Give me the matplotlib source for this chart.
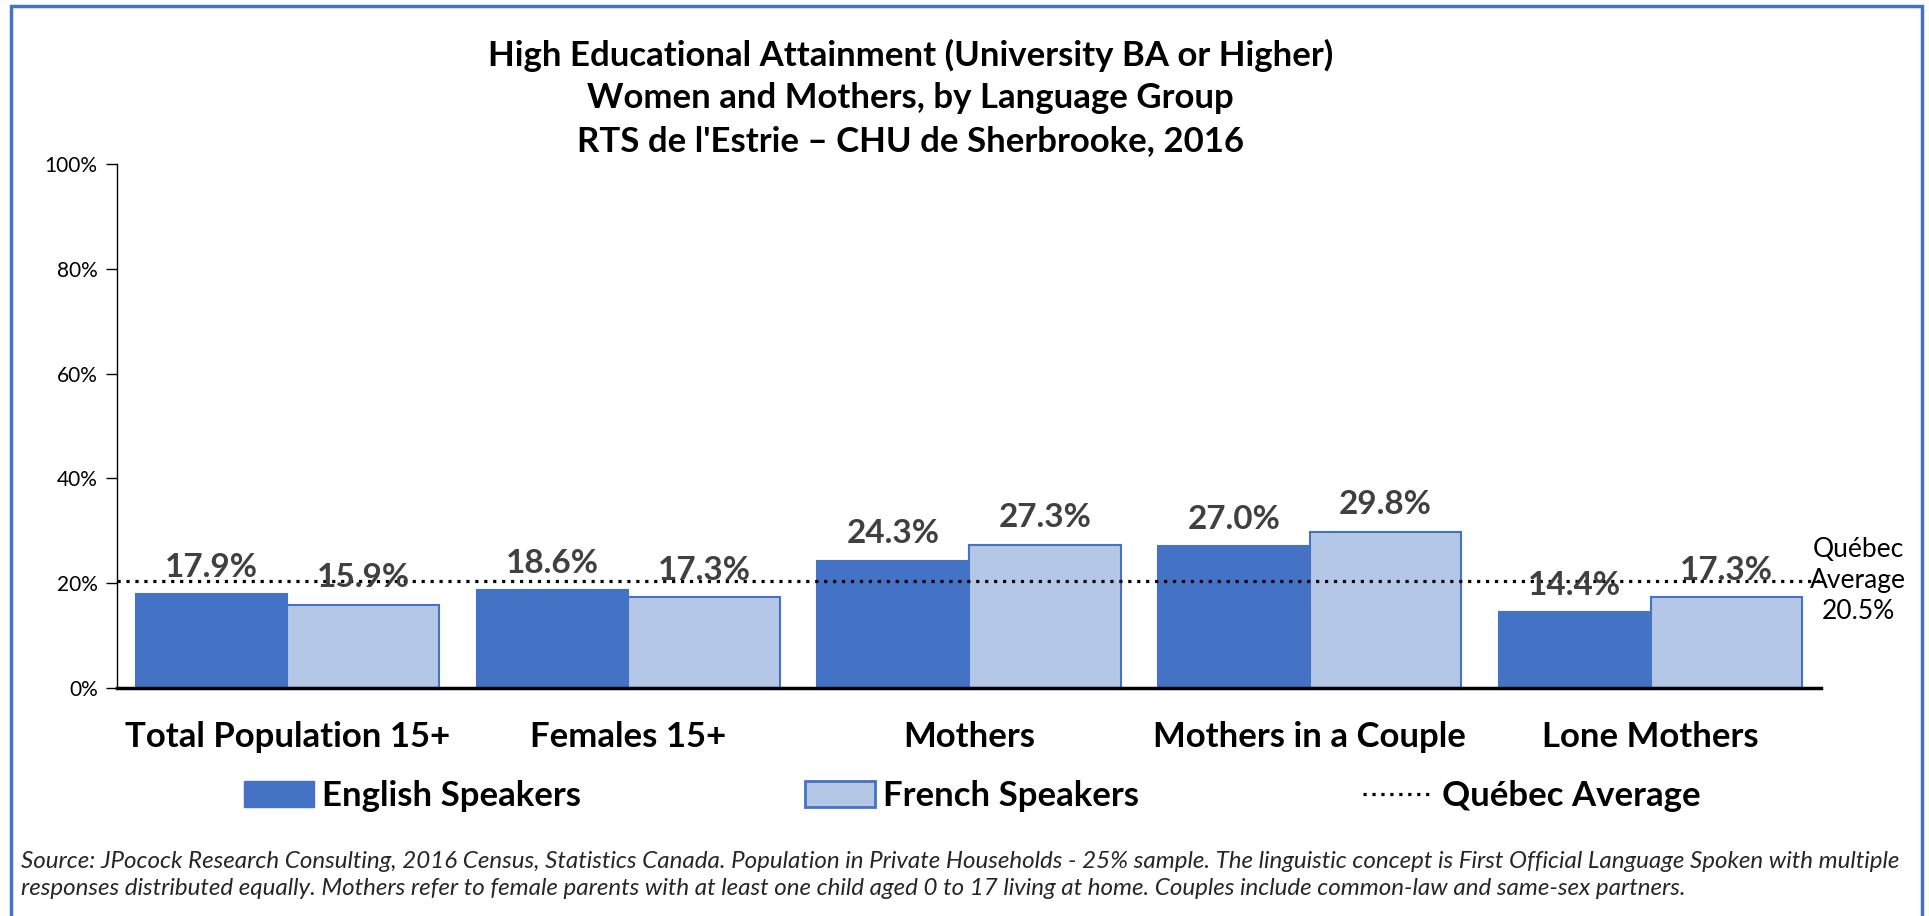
import matplotlib
matplotlib.use("Agg")
import matplotlib.pyplot as plt
from matplotlib.patches import Rectangle, Patch
from matplotlib.lines import Line2D
import numpy as np

categories = ["Total Population 15+", "Females 15+", "Mothers", "Mothers in a Couple", "Lone Mothers"]
english = [17.9, 18.6, 24.3, 27.0, 14.4]
french = [15.9, 17.3, 27.3, 29.8, 17.3]
quebec_avg = 20.5
yticks = [0, 20, 40, 60, 80, 100]
title_lines = ["High Educational Attainment (University BA or Higher)",
               "Women and Mothers, by Language Group",
               "RTS de l'Estrie \u2013 CHU de Sherbrooke, 2016"]
source = ("Source: JPocock Research Consulting, 2016 Census, Statistics Canada. Population in Private Households - 25% sample. "
          "The linguistic concept is First Official Language Spoken with multiple\n"
          "responses distributed equally. Mothers refer to female parents with at least one child aged 0 to 17 living at home. "
          "Couples include common-law and same-sex partners.")

FONT = ["Lato", "DejaVu Sans"]
plt.rcParams['font.family'] = FONT

C_EN = "#4472C4"
C_FR = "#B4C7E7"
DOTS = (0, (1, 1.8))

fig = plt.figure(figsize=(19.29, 9.16), dpi=100)
ax = fig.add_axes([0.0607, 0.249, 0.944 - 0.0607, 0.821 - 0.249])

x = np.arange(len(categories))
w = 0.445
b1 = ax.bar(x - w / 2, english, w, color=C_EN, edgecolor=C_EN, linewidth=1.5, zorder=2)
b2 = ax.bar(x + w / 2, french, w, color=C_FR, edgecolor=C_EN, linewidth=1.5, zorder=2)
ax.axhline(quebec_avg, color="black", linestyle=DOTS, linewidth=2.3, zorder=3)

for bars, vals in ((b1, english), (b2, french)):
    for r, v in zip(bars, vals):
        ax.annotate(f"{v:.1f}%", (r.get_x() + r.get_width() / 2, v), xytext=(0, 9),
                    textcoords="offset points", ha="center", va="bottom",
                    fontsize=24, fontweight="bold", color="#404040", zorder=4)

ax.set_xlim(-0.5, len(categories) - 0.5)
ax.set_ylim(0, 100)
ax.set_yticks(yticks)
ax.set_yticklabels([f"{t}%" for t in yticks], fontsize=15)
ax.set_xticks(x)
ax.set_xticklabels(categories, fontsize=25, fontweight="bold")
ax.tick_params(axis="x", length=0, pad=24)
ax.tick_params(axis="y", length=8, width=1, direction="out", pad=6)
for s in ("top", "right"):
    ax.spines[s].set_visible(False)
ax.spines["left"].set_linewidth(1)
ax.spines["bottom"].set_linewidth(2.5)

ax.text(1.0217, quebec_avg, "Qu\u00e9bec\nAverage\n20.5%", transform=ax.get_yaxis_transform(),
        ha="center", va="center", fontsize=19, linespacing=1.3)

for i, line in enumerate(title_lines):
    fig.text(0.472, 1 - (55 + 43 * i) / 916, line, ha="center", va="center",
             fontsize=25, fontweight="bold")

handles = [Patch(facecolor=C_EN, edgecolor=C_EN),
           Patch(facecolor=C_FR, edgecolor=C_EN, linewidth=2),
           Line2D([0], [0], color="black", linestyle=DOTS, linewidth=2.3)]
fig.legend(handles, ["English Speakers", "French Speakers", "Qu\u00e9bec Average"],
           loc="center", bbox_to_anchor=(0.504, 1 - 796 / 916), ncol=3, frameon=False,
           prop={"size": 25, "weight": "bold"}, handlelength=2.0, handleheight=0.75,
           handletextpad=0.25, columnspacing=6.45, borderpad=0, borderaxespad=0)

fig.text(0.011, 1 - 875 / 916, source, ha="left", va="center", fontsize=17.4,
         style="italic", linespacing=1.3, color="#262626")

fig.patches.append(Rectangle((0.0055, -0.02), 0.9962 - 0.0055, 0.993 + 0.02,
                             transform=fig.transFigure, fill=False, edgecolor=C_EN,
                             linewidth=2.5))

fig.savefig("out.png", dpi=100)
